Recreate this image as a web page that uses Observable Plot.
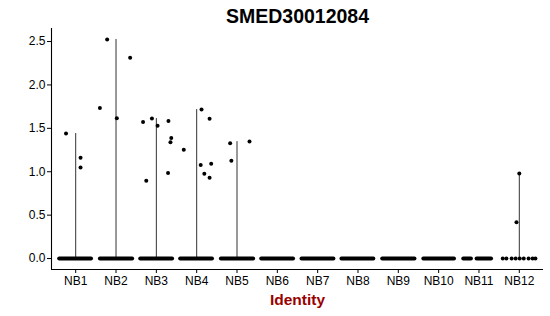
<!DOCTYPE html>
<html>
<head>
<meta charset="utf-8">
<script src="https://cdn.jsdelivr.net/npm/d3@7"></script>
<script src="https://cdn.jsdelivr.net/npm/@observablehq/plot@0.6"></script>
<style>
  body { margin: 0; background: #fff; }
  svg { font-family: "Liberation Sans", Arial, sans-serif; }
</style>
</head>
<body>
<div id="chart"></div>
<script>
// Chart text
const title = "SMED30012084";
const xTitle = "Identity";
const categories = ["NB1","NB2","NB3","NB4","NB5","NB6","NB7","NB8","NB9","NB10","NB11","NB12"];
const yTicks = [0, 0.5, 1.0, 1.5, 2.0, 2.5];

// Non-zero expression values (cells), with horizontal jitter
const ptCat    = ["NB1","NB1","NB1",
                  "NB2","NB2","NB2","NB2",
                  "NB3","NB3","NB3","NB3","NB3","NB3","NB3","NB3",
                  "NB4","NB4","NB4","NB4","NB4","NB4","NB4",
                  "NB5","NB5","NB5",
                  "NB12","NB12"];
const ptValue  = [1.44, 1.16, 1.05,
                  1.735, 2.524, 1.617, 2.313,
                  1.574, 1.612, 1.53, 1.585, 1.39, 1.34, 0.985, 0.896,
                  1.254, 1.716, 1.61, 1.077, 0.977, 0.93, 1.092,
                  1.328, 1.347, 1.127,
                  0.981, 0.419];
const ptJitter = [-0.24, 0.12, 0.12,
                  -0.40, -0.22, 0.02, 0.35,
                  -0.33, -0.11, 0.03, 0.30, 0.37, 0.35, 0.29, -0.25,
                  -0.32, 0.12, 0.32, 0.10, 0.19, 0.32, 0.36,
                  -0.17, 0.31, -0.14,
                  0.00, -0.07];

// Zero-valued cells: jitter extents of the dense runs of points at 0
const bandCat  = ["NB1","NB2","NB3","NB4","NB5","NB6","NB7","NB8","NB9","NB10","NB11","NB11"];
const bandFrom = [-0.41,-0.40,-0.40,-0.41,-0.40,-0.40,-0.40,-0.41,-0.40,-0.38,-0.39,-0.06];
const bandTo   = [ 0.38, 0.40, 0.39, 0.38, 0.40, 0.39, 0.39, 0.38, 0.40, 0.38,-0.20, 0.30];
// Sparse zero-valued cells
const zeroCat    = ["NB12","NB12","NB12","NB12","NB12","NB12","NB12","NB12","NB12"];
const zeroJitter = [-0.41,-0.32,-0.19,-0.09,0.01,0.11,0.23,0.33,0.40];

const idx = c => categories.indexOf(c);
const points = ptCat.map((c, i) => ({cat: c, value: ptValue[i], j: ptJitter[i]}));
const bands = bandCat.map((c, i) => ({cat: c, from: bandFrom[i], to: bandTo[i]}));
const zeros = zeroCat.map((c, i) => ({cat: c, value: 0, j: zeroJitter[i]}));

// Degenerate violins: outline from 0 to the max of each group
const tops = Array.from(d3.rollup(points, v => d3.max(v, d => d.value), d => d.cat),
  ([cat, max]) => ({cat, max}));

const yMax = d3.max(points, d => d.value);
const yPad = yMax * 0.05;
const yDomain = [-yPad, yMax + yPad];
const xDomain = [-0.6, categories.length - 1 + 0.6];

const chart = Plot.plot({
  width: 550,
  height: 316,
  marginLeft: 51,
  marginRight: 7,
  marginTop: 28,
  marginBottom: 47,
  style: {fontFamily: "'Liberation Sans', Arial, sans-serif", fontSize: "12px", color: "#000", background: "#fff"},
  x: {domain: xDomain, axis: null},
  y: {domain: yDomain, axis: null},
  marks: [
    Plot.axisY({ticks: yTicks, tickFormat: d3.format(".1f"), tickSize: 4, tickPadding: 2, label: null, fontSize: 12, stroke: "#000", fill: "#000"}),
    Plot.axisX({ticks: d3.range(categories.length), tickFormat: i => categories[i], tickSize: 4, tickPadding: 3, label: null, fontSize: 12, stroke: "#000", fill: "#000"}),
    Plot.ruleX([xDomain[0]], {y1: yDomain[0], y2: yDomain[1], stroke: "#000", strokeWidth: 1.1}),
    Plot.ruleY([yDomain[0]], {x1: xDomain[0], x2: xDomain[1], stroke: "#000", strokeWidth: 1.1}),
    Plot.ruleX(tops, {x: d => idx(d.cat), y1: 0, y2: "max", stroke: "#333", strokeWidth: 1}),
    Plot.link(bands, {x1: d => idx(d.cat) + d.from, x2: d => idx(d.cat) + d.to, y1: 0, y2: 0, stroke: "#000", strokeWidth: 4, strokeLinecap: "round"}),
    Plot.dot(zeros, {x: d => idx(d.cat) + d.j, y: "value", r: 2, fill: "#000", stroke: null}),
    Plot.dot(points, {x: d => idx(d.cat) + d.j, y: "value", r: 2, fill: "#000", stroke: null}),
    Plot.text([title], {frameAnchor: "top", lineAnchor: "bottom", dy: -6, fontSize: 19.5, fontWeight: "bold", fill: "#000"}),
    Plot.text([xTitle], {frameAnchor: "bottom", lineAnchor: "bottom", dy: 35, fontSize: 15.5, fontWeight: "bold", fill: "#990000"})
  ]
});
document.getElementById("chart").append(chart);
</script>
</body>
</html>
